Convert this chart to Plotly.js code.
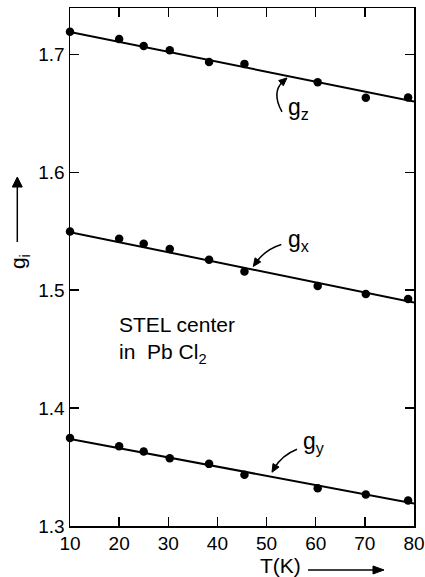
<!DOCTYPE html>
<html>
<head>
<meta charset="utf-8">
<script src="https://cdn.plot.ly/plotly-3.0.1.min.js"></script>
<style>
  html, body { margin: 0; padding: 0; background: #fff; }
  #chart { width: 425px; height: 577px; }
</style>
</head>
<body>
<div id="chart"></div>
<script>
// Temperatures of the measured points (K)
const temps = [10, 20, 25, 30.3, 38.3, 45.5, 60.4, 70.2, 78.8];

// Measured principal g values of the STEL center
const gz = [1.7193, 1.7131, 1.7072, 1.7035, 1.6935, 1.6920, 1.6765, 1.6632, 1.6635];
const gx = [1.5498, 1.5436, 1.5394, 1.5349, 1.5258, 1.5159, 1.5035, 1.4968, 1.4925];
const gy = [1.3747, 1.3676, 1.3631, 1.3574, 1.3527, 1.3434, 1.3320, 1.3267, 1.3216];

// Linear fits, given by their values at the ends of the temperature range
const fitT = [10, 80];
const gzFit = [1.7191, 1.6600];
const gxFit = [1.5493, 1.4896];
const gyFit = [1.3739, 1.3190];

// Axis ticks
const xTicks = [10, 20, 30, 40, 50, 60, 70, 80];
const yTicks = [1.3, 1.4, 1.5, 1.6, 1.7];
const yTickText = ['1.3', '1.4', '1.5', '1.6', '1.7'];

const tickFont = { family: '"Liberation Sans Narrow", "Arial Narrow", "Liberation Sans", Arial, sans-serif', size: 19, color: '#000' };
const textFont = { family: '"Liberation Sans", Arial, sans-serif', size: 21, color: '#000' };
const labelFont = { family: '"Liberation Sans", Arial, sans-serif', size: 23, color: '#000' };

const traces = [];
[[gz, gzFit], [gx, gxFit], [gy, gyFit]].forEach(([pts, fit]) => {
  traces.push({
    x: fitT, y: fit, type: 'scatter', mode: 'lines',
    line: { color: '#000', width: 2 }, hoverinfo: 'skip', cliponaxis: false
  });
  traces.push({
    x: temps, y: pts, type: 'scatter', mode: 'markers',
    marker: { color: '#000', size: 8.5 }, cliponaxis: false
  });
});

// Arrow made of a straight or curved shaft and a filled head.
// Offsets are in pixels relative to the tip (x to the right, y upwards).
function arrow(xref, yref, x, y, tail, ctrl, headLen, headHalf) {
  const c = ctrl || tail;
  let dx = -c[0], dy = -c[1];
  const L = Math.hypot(dx, dy);
  dx /= L; dy /= L;
  const bx = -dx * headLen, by = -dy * headLen;
  const px = -dy * headHalf, py = dx * headHalf;
  const ex = (bx * 0.6).toFixed(2), ey = (by * 0.6).toFixed(2);
  const shaft = ctrl
    ? `M${tail[0]},${tail[1]} Q${ctrl[0]},${ctrl[1]} ${ex},${ey}`
    : `M${tail[0]},${tail[1]} L${ex},${ey}`;
  const head = `M0,0 L${(bx + px).toFixed(2)},${(by + py).toFixed(2)} L${(bx - px).toFixed(2)},${(by - py).toFixed(2)} Z`;
  const base = { type: 'path', xref, yref, xsizemode: 'pixel', ysizemode: 'pixel', xanchor: x, yanchor: y };
  return [
    Object.assign({}, base, { path: shaft, line: { color: '#000', width: 1.5 } }),
    Object.assign({}, base, { path: head, line: { color: '#000', width: 1 }, fillcolor: '#000' })
  ];
}

const shapes = [].concat(
  arrow('x', 'y', 54.16, 1.6801, [-5, -34], [-16, -14], 8, 3.5),
  arrow('x', 'y', 47.3, 1.5202, [28, 22], [12, 17], 8, 3.5),
  arrow('x', 'y', 51.1, 1.3456, [25, 23], [10, 17], 8, 3.5),
  arrow('paper', 'paper', 0.9128, -0.0849, [-76, 0], null, 11, 4),
  arrow('paper', 'paper', -0.1532, 0.6737, [0, -65], null, 10, 5)
);

const annotations = [
  { x: 53.96, y: 1.6545, xref: 'x', yref: 'y', xanchor: 'left', yanchor: 'middle',
    text: 'g<sub>z</sub>', showarrow: false, font: labelFont },
  { x: 53.96, y: 1.5420, xref: 'x', yref: 'y', xanchor: 'left', yanchor: 'middle',
    text: 'g<sub>x</sub>', showarrow: false, font: labelFont },
  { x: 57.0, y: 1.3710, xref: 'x', yref: 'y', xanchor: 'left', yanchor: 'middle',
    text: 'g<sub>y</sub>', showarrow: false, font: labelFont },
  { x: 19.6, y: 1.4820, xref: 'x', yref: 'y', xanchor: 'left', yanchor: 'top', align: 'left',
    text: 'STEL center<br>in\u00a0\u00a0Pb\u00a0Cl<sub>2</sub>', showarrow: false, font: textFont },
  { x: 0.612, y: -0.0772, xref: 'paper', yref: 'paper', xanchor: 'center', yanchor: 'middle',
    text: 'T(K)', showarrow: false, font: textFont },
  { x: -0.148, y: 0.5097, xref: 'paper', yref: 'paper', xanchor: 'center', yanchor: 'middle',
    text: 'g<sub>i</sub>', textangle: -90, showarrow: false, font: textFont }
];

const axisCommon = {
  showgrid: false, zeroline: false, showline: true, linecolor: '#000', linewidth: 1.5,
  mirror: 'ticks', ticks: 'inside', ticklen: 9, tickwidth: 1.5, tickcolor: '#000',
  tickfont: tickFont, fixedrange: true
};

const layout = {
  width: 425, height: 577,
  margin: { l: 70, r: 11, t: 8, b: 51, pad: 0 },
  paper_bgcolor: '#fff', plot_bgcolor: '#fff',
  showlegend: false,
  xaxis: Object.assign({}, axisCommon, { range: [10, 80], tickmode: 'array', tickvals: xTicks }),
  yaxis: Object.assign({}, axisCommon, { range: [1.3, 1.7394], tickmode: 'array', tickvals: yTicks, ticktext: yTickText }),
  shapes: shapes,
  annotations: annotations
};

Plotly.newPlot('chart', traces, layout, { displayModeBar: false, staticPlot: true });
</script>
</body>
</html>
